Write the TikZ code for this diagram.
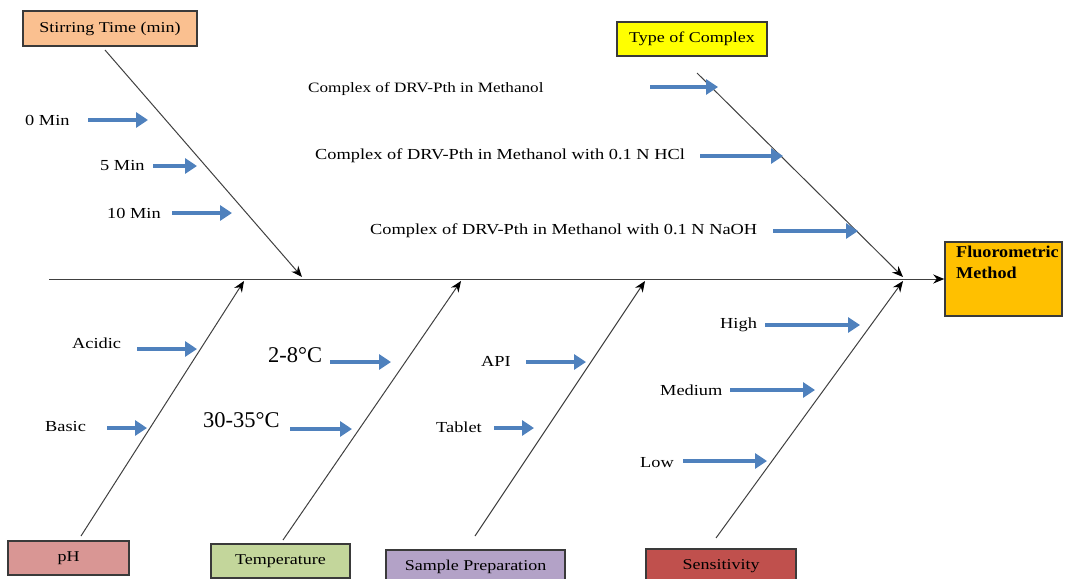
\documentclass[tikz,border=0pt]{standalone}
\usepackage{fontspec}
\setmainfont{Liberation Serif}
\newfontfamily\cam[FakeStretch=1.2]{Liberation Serif}
\newfontfamily\camb[FakeStretch=1.1]{Liberation Serif}
\usetikzlibrary{arrows.meta}
\definecolor{arrblue}{HTML}{4F81BD}
\definecolor{bonegray}{HTML}{404040}
\definecolor{boxgray}{HTML}{3A3A3A}
\definecolor{cstir}{HTML}{FAC090}
\definecolor{ctype}{HTML}{FFFF00}
\definecolor{cfluor}{HTML}{FFC000}
\definecolor{cph}{HTML}{D99694}
\definecolor{ctemp}{HTML}{C3D69B}
\definecolor{csamp}{HTML}{B3A2C7}
\definecolor{csens}{HTML}{C0504D}
\tikzset{
  lbl/.style={font=\cam\fontsize{15.3}{18}\selectfont, anchor=west, inner sep=0pt},
  tlbl/.style={font=\fontsize{22.5}{26}\selectfont, anchor=west, inner sep=0pt},
  barrow/.style={draw=arrblue, line width=4.5pt, -{Triangle[length=12pt,width=15pt]}},
  bone/.style={draw=bonegray, line width=1pt, -{Stealth[length=11pt,width=9pt,color=black]}},
  box/.style={draw=boxgray, line width=1.5pt, inner sep=0pt, font=\cam\fontsize{15}{18}\selectfont},
}
\begin{document}
\begin{tikzpicture}[x=1pt,y=-1pt]
\useasboundingbox (0,0) rectangle (1065,578);
% boxes
\node[box, fill=cstir, minimum width=174pt, minimum height=35pt] (stir) at (110,28.5) {Stirring Time (min)};
\node[box, fill=ctype, minimum width=150pt, minimum height=34pt] (type) at (692,39) {Type of Complex};
\node[box, fill=cfluor, minimum width=117pt, minimum height=74pt] (fluor) at (1003.5,279) {};
\node[anchor=north west, align=left, inner sep=0pt, font=\camb\bfseries\fontsize{16.5}{21}\selectfont] (fluortxt) at (956,246) {Fluorometric\\Method};
\node[box, fill=cph, minimum width=121pt, minimum height=34pt] (ph) at (68.5,558) {pH};
\node[box, fill=ctemp, minimum width=139pt, minimum height=34pt] (temp) at (280.5,561) {Temperature};
\node[box, fill=csamp, minimum width=179pt, minimum height=34pt] (samp) at (475.5,567) {Sample Preparation};
\node[box, fill=csens, minimum width=150pt, minimum height=34pt] (sens) at (721,566) {Sensitivity};

% spine
\coordinate (mstart) at (49,279);
\draw[bone] (mstart) -- (fluor.west);

% bones
\coordinate (stirS) at (105,50);   \coordinate (stirE) at (302,277);
\coordinate (typeS) at (697,73);   \coordinate (typeE) at (903,277);
\coordinate (phS) at (81,536);     \coordinate (phE) at (244,281);
\coordinate (tempS) at (283,540);  \coordinate (tempE) at (461,281);
\coordinate (sampS) at (475,536);  \coordinate (sampE) at (645,281);
\coordinate (sensS) at (716,538);  \coordinate (sensE) at (903,281);
\draw[bone] (stirS) -- (stirE);
\draw[bone] (typeS) -- (typeE);
\draw[bone] (phS) -- (phE);
\draw[bone] (tempS) -- (tempE);
\draw[bone] (sampS) -- (sampE);
\draw[bone] (sensS) -- (sensE);

% labels
\node[lbl] (m0) at (25,120) {0 Min};
\node[lbl] (m5) at (100,166) {5 Min};
\node[lbl] (m10) at (107,213) {10 Min};
\node[lbl, font=\cam\fontsize{14.3}{17}\selectfont] (c1) at (308,89) {Complex of DRV-Pth in Methanol};
\node[lbl] (c2) at (315,156) {Complex of DRV-Pth in Methanol with 0.1 N HCl};
\node[lbl] (c3) at (370,231) {Complex of DRV-Pth in Methanol with 0.1 N NaOH};
\node[lbl] (acid) at (72,343) {Acidic};
\node[lbl] (basic) at (45,427) {Basic};
\node[tlbl] (t1) at (268,355) {2-8°C};
\node[tlbl] (t2) at (203,420) {30-35°C};
\node[lbl] (api) at (481,361) {API};
\node[lbl] (tab) at (436,427) {Tablet};
\node[lbl] (high) at (720,325) {High};
\node[lbl] (med) at (660,390) {Medium};
\node[lbl] (low) at (640,463) {Low};

% blue arrows
\coordinate (a0s) at (88,120);   \coordinate (a0e) at (148,120);
\coordinate (a5s) at (153,166);  \coordinate (a5e) at (197,166);
\coordinate (a10s) at (172,213); \coordinate (a10e) at (232,213);
\coordinate (c1s) at (650,87);   \coordinate (c1e) at (718,87);
\coordinate (c2s) at (700,156);  \coordinate (c2e) at (783,156);
\coordinate (c3s) at (773,231);  \coordinate (c3e) at (858,231);
\coordinate (acs) at (137,349);  \coordinate (ace) at (197,349);
\coordinate (bas) at (107,428);  \coordinate (bae) at (147,428);
\coordinate (t1s) at (330,362);  \coordinate (t1e) at (391,362);
\coordinate (t2s) at (290,429);  \coordinate (t2e) at (352,429);
\coordinate (aps) at (526,362);  \coordinate (ape) at (586,362);
\coordinate (tas) at (494,428);  \coordinate (tae) at (534,428);
\coordinate (his) at (765,325);  \coordinate (hie) at (860,325);
\coordinate (mes) at (730,390);  \coordinate (mee) at (815,390);
\coordinate (los) at (683,461);  \coordinate (loe) at (767,461);
\foreach \s/\e in {a0s/a0e,a5s/a5e,a10s/a10e,c1s/c1e,c2s/c2e,c3s/c3e,acs/ace,bas/bae,t1s/t1e,t2s/t2e,aps/ape,tas/tae,his/hie,mes/mee,los/loe}
  \draw[barrow] (\s) -- (\e);
\end{tikzpicture}
\end{document}
